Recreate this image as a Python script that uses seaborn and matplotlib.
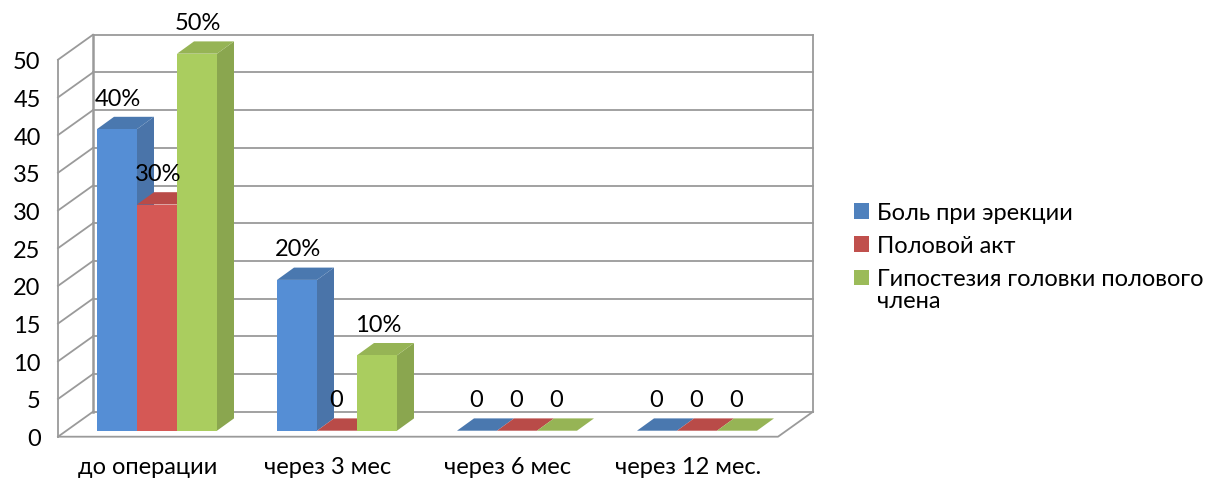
import matplotlib
matplotlib.use("Agg")
import matplotlib.pyplot as plt
import pandas as pd
import seaborn as sns
from matplotlib.patches import Patch, Polygon

# Survey results by follow-up time
categories = ["до операции", "через 3 мес", "через 6 мес", "через 12 мес."]
pain = [40, 20, 0, 0]
intercourse = [30, 0, 0, 0]
hypoesthesia = [50, 10, 0, 0]
series_names = ["Боль при эрекции", "Половой акт", "Гипостезия головки полового\nчлена"]
y_ticks = [0, 5, 10, 15, 20, 25, 30, 35, 40, 45, 50]

front_colors = ["#558ED5", "#D55855", "#AACD5F"]
side_colors = ["#4A74A9", "#B04E4B", "#8AA64F"]
top_colors = ["#4A78AF", "#B94B48", "#96B455"]
legend_colors = ["#4F81BD", "#C0504D", "#9BBB59"]
FRAME = "#9A9A9A"
FONT_SIZE = 17.0

W, H = 1205, 481
sns.set_theme(style="white")
plt.rcParams["font.family"] = ["Lato", "Open Sans", "DejaVu Sans"]

fig = plt.figure(figsize=(W / 100, H / 100), dpi=100, facecolor="white")
# The axes is the front plane of the 3D box; the back wall is offset from it.
ax = fig.add_axes([58 / W, 1 - 437.7 / H, 720 / W, 377 / H])

PX_X = 180.0          # pixels per category
PX_Y = 377.0 / 50     # pixels per value unit
wall_dx, wall_dy = 35 / PX_X, 25 / PX_Y
base_dx, base_dy = 9 / PX_X, 6 / PX_Y
bar_dx, bar_dy = 17 / PX_X, 12.3 / PX_Y

df = pd.DataFrame({
    "category": categories * 3,
    "series": sum([[n] * len(categories) for n in series_names], []),
    "value": pain + intercourse + hypoesthesia,
})
sns.barplot(data=df, x="category", y="value", hue="series", order=categories,
            hue_order=series_names, palette=front_colors, saturation=1,
            width=2 / 3, gap=0, dodge=True, legend=False, errorbar=None,
            linewidth=0, ax=ax)

ax.set_xlim(-0.5, 3.5)
ax.set_ylim(0, 50)
ax.set_xlabel("")
ax.set_ylabel("")
ax.set_yticks(y_ticks)
ax.patch.set_alpha(0)
sns.despine(ax=ax, left=True, bottom=True)
ax.tick_params(axis="y", length=0, pad=12.5, labelsize=FONT_SIZE, labelcolor="black")
ax.tick_params(axis="x", length=0, pad=14, labelsize=FONT_SIZE, labelcolor="black")


def frame_line(xs, ys, lw=1.3, color=FRAME):
    ax.plot(xs, ys, color=color, lw=lw, clip_on=False, zorder=1,
            solid_capstyle="projecting")


# Back wall, floor and left wall of the box
x0, x1 = -0.5, 3.5
for v in y_ticks:
    frame_line([x0 + wall_dx, x1 + wall_dx], [v + wall_dy, v + wall_dy])
    frame_line([x0, x0 + wall_dx], [v, v + wall_dy])
frame_line([x0, x0], [0, 50])
frame_line([x0 + wall_dx, x0 + wall_dx], [wall_dy, 50 + wall_dy], lw=1.8)
frame_line([x1 + wall_dx, x1 + wall_dx], [wall_dy, 50 + wall_dy])
frame_line([x0, x1, x1 + wall_dx], [0, 0, wall_dy])

# Extrude every bar backwards and label it
for s, container in enumerate(ax.containers):
    z = 3 + s * 0.1
    for bar in container:
        bar.set_x(bar.get_x() + base_dx)
        bar.set_y(base_dy)
        bar.set_zorder(z + 0.05)
        bar.set_clip_on(False)
        left, w, h = bar.get_x(), bar.get_width(), bar.get_height()
        right, top = left + w, base_dy + h
        if h > 0:
            ax.add_patch(Polygon(
                [(right, base_dy), (right + bar_dx, base_dy + bar_dy),
                 (right + bar_dx, top + bar_dy), (right, top)],
                facecolor=side_colors[s], edgecolor="none", zorder=z, clip_on=False))
        ax.add_patch(Polygon(
            [(left, top), (right, top), (right + bar_dx, top + bar_dy),
             (left + bar_dx, top + bar_dy)],
            facecolor=top_colors[s], edgecolor="none", zorder=z, clip_on=False))
        ax.annotate(f"{h:.0f}%" if h > 0 else "0", (left + w / 2, top),
                    xytext=(0.7 if h > 0 else -0.7, 31 * 0.72), textcoords="offset points",
                    ha="center", va="center", fontsize=FONT_SIZE, color="black",
                    annotation_clip=False, zorder=10)

handles = [Patch(facecolor=c, edgecolor="none") for c in legend_colors]
legend = ax.legend(handles, series_names, loc="upper left",
                   bbox_to_anchor=(854 / W, 1 - 203.5 / H), bbox_transform=fig.transFigure,
                   frameon=False, fontsize=FONT_SIZE, borderpad=0, borderaxespad=0,
                   handlelength=0.635, handleheight=0.635, handletextpad=0.36,
                   labelspacing=0.5, labelcolor="black")
legend.get_texts()[2].set_linespacing(1.06)
# The wrapped entry keeps its swatch level with the first line of text
swatch = legend.get_patches()[2]
swatch.set_y(swatch.get_y() + 9)

fig.savefig("out.png", dpi=100, facecolor="white")
